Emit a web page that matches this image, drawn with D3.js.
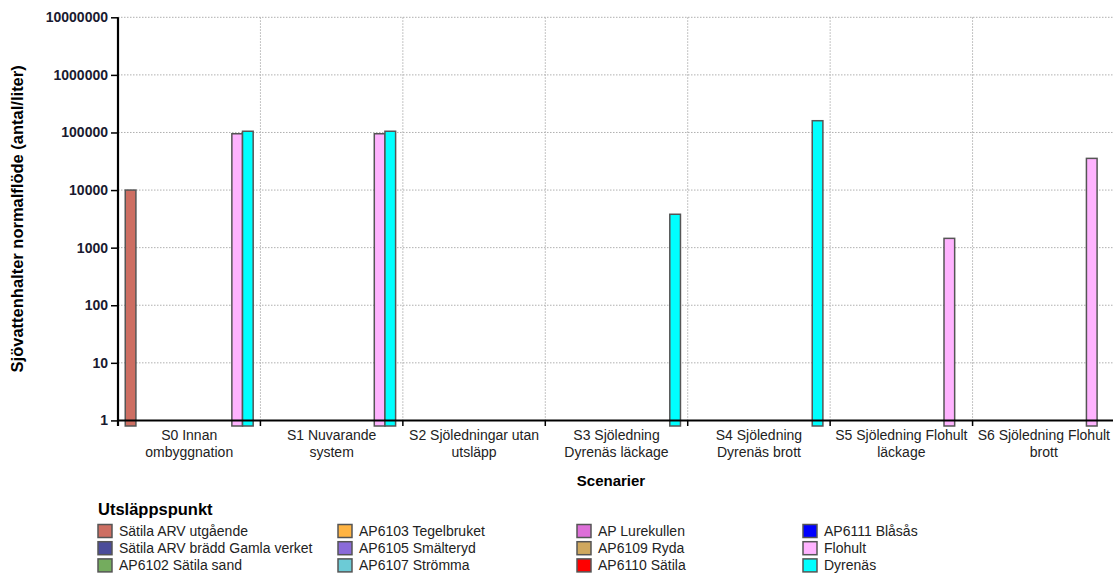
<!DOCTYPE html>
<html><head><meta charset="utf-8">
<script src="https://cdn.jsdelivr.net/npm/d3@7"></script>
<style>
html,body{margin:0;padding:0;background:#fff;}
svg{display:block;font-family:"Liberation Sans",Arial,sans-serif;}
</style></head>
<body><svg id="c" width="1113" height="574"></svg>
<script>
const categories = ["S0 Innan ombyggnation","S1 Nuvarande system","S2 Sjöledningar utan utsläpp","S3 Sjöledning Dyrenäs läckage","S4 Sjöledning Dyrenäs brott","S5 Sjöledning Flohult läckage","S6 Sjöledning Flohult brott"];
const seriesNames = ["Sätila ARV utgående","Sätila ARV brädd Gamla verket","AP6102 Sätila sand","AP6103 Tegelbruket","AP6105 Smälteryd","AP6107 Strömma","AP Lurekullen","AP6109 Ryda","AP6110 Sätila","AP6111 Blåsås","Flohult","Dyrenäs"];
const seriesColors = ["#cd6e62","#4b4c9a","#74ac5e","#ffb443","#8a6bd9","#6ccbd6","#dd6fd8","#cfa85e","#ff0000","#0000ff","#ffb3ff","#00ffff"];
// values per series, per category (null = no bar)
const values = {
  "Sätila ARV utgående":           [10000,null,null,null,null,null,null],
  "Sätila ARV brädd Gamla verket": [null,null,null,null,null,null,null],
  "AP6102 Sätila sand":            [null,null,null,null,null,null,null],
  "AP6103 Tegelbruket":            [null,null,null,null,null,null,null],
  "AP6105 Smälteryd":              [null,null,null,null,null,null,null],
  "AP6107 Strömma":                [null,null,null,null,null,null,null],
  "AP Lurekullen":                 [null,null,null,null,null,null,null],
  "AP6109 Ryda":                   [null,null,null,null,null,null,null],
  "AP6110 Sätila":                 [null,null,null,null,null,null,null],
  "AP6111 Blåsås":                 [null,null,null,null,null,null,null],
  "Flohult":                       [95000,95000,null,null,null,1450,35500],
  "Dyrenäs":                       [105000,105000,null,3800,160000,null,null]
};
const yTicks = [1,10,100,1000,10000,100000,1000000,10000000];
const yFloor = 0.8;
const yTitle = "Sjövattenhalter normalflöde (antal/liter)";
const xTitle = "Scenarier";
const legendTitle = "Utsläppspunkt";

const svg = d3.select("#c");
const L = 118, R = 1115, T = 17.3, B = 426;

const x0 = d3.scaleBand().domain(categories).range([L, R]).paddingInner(0).paddingOuter(0);
const x1 = d3.scaleBand().domain(seriesNames).range([0, x0.bandwidth()]).paddingInner(0).paddingOuter(0.68);
const y = d3.scaleLog().domain([yFloor, yTicks[yTicks.length-1]]).range([B, T]);

// gridlines
const grid = svg.append("g");
grid.selectAll("line.h").data(yTicks.slice(1)).join("line")
  .attr("x1", L).attr("x2", R).attr("y1", d=>y(d)).attr("y2", d=>y(d))
  .attr("stroke","#b0b0b0").attr("stroke-width",1).attr("stroke-dasharray","1.5,1.5");
const bounds = categories.map(c => x0(c) + x0.bandwidth());
grid.selectAll("line.v").data(bounds).join("line")
  .attr("x1", d=>d).attr("x2", d=>d).attr("y1", T).attr("y2", y(1))
  .attr("stroke","#b0b0b0").attr("stroke-width",1).attr("stroke-dasharray","1.5,1.5");

// bars
const barData = [];
seriesNames.forEach((s,i)=>{
  values[s].forEach((v,j)=>{ if(v!=null) barData.push({s, c:categories[j], v, color:seriesColors[i]}); });
});
svg.append("g").selectAll("rect").data(barData).join("rect")
  .attr("x", d => x0(d.c) + x1(d.s))
  .attr("width", x1.bandwidth())
  .attr("y", d => y(d.v))
  .attr("height", d => y(yFloor) - y(d.v))
  .attr("fill", d => d.color)
  .attr("stroke", "#555").attr("stroke-width", 1.5);

// x axis line at value 1
svg.append("line").attr("x1", L).attr("x2", R).attr("y1", y(1)).attr("y2", y(1))
  .attr("stroke","#000").attr("stroke-width",2);
// x ticks at group boundaries
svg.append("g").selectAll("line").data(bounds).join("line")
  .attr("x1", d=>d).attr("x2", d=>d).attr("y1", y(1)).attr("y2", B)
  .attr("stroke","#000").attr("stroke-width",1.5);

// y axis
const yAxis = d3.axisLeft(y).tickValues(yTicks).tickFormat(d3.format("d")).tickSize(7).tickPadding(3);
const ya = svg.append("g").attr("transform", `translate(${L},0)`).call(yAxis);
ya.select(".domain").remove();
ya.selectAll(".tick line").attr("stroke","#000").attr("stroke-width",1.5);
ya.selectAll(".tick text").attr("font-size", 14).attr("font-weight","bold")
  .attr("font-family","'Liberation Sans',Arial,sans-serif").attr("fill","#1a1a30");
svg.append("line").attr("x1", L).attr("x2", L).attr("y1", T).attr("y2", B)
  .attr("stroke","#000").attr("stroke-width",2.2);

// category labels with wrapping
const catG = svg.append("g");
categories.forEach(c => {
  const t = catG.append("text").attr("x", x0(c) + x0.bandwidth()/2).attr("y", 439.5)
    .attr("text-anchor","middle").attr("font-size",14).attr("fill","#222");
  const words = c.split(" ");
  let line = [], tspan = t.append("tspan").attr("x", x0(c) + x0.bandwidth()/2).attr("dy",0);
  words.forEach(w => {
    line.push(w);
    tspan.text(line.join(" "));
    if (tspan.node().getComputedTextLength() > 136 && line.length > 1) {
      line.pop(); tspan.text(line.join(" "));
      line = [w];
      tspan = t.append("tspan").attr("x", x0(c) + x0.bandwidth()/2).attr("dy", 17).text(w);
    }
  });
});

// axis titles
svg.append("text").attr("x", 611).attr("y", 485.5).attr("text-anchor","middle")
  .attr("font-size",15).attr("font-weight","bold").attr("fill","#000").text(xTitle);
svg.append("text").attr("transform", `translate(23,${(T+y(1))/2}) rotate(-90)`)
  .attr("text-anchor","middle").attr("font-size",16.5).attr("font-weight","bold").attr("fill","#000").text(yTitle);

// legend
const lg = svg.append("g");
lg.append("text").attr("x", 98).attr("y", 514.5).attr("font-size",16.5).attr("font-weight","bold").attr("fill","#000").text(legendTitle);
const colX = [98, 338, 577, 803];
seriesNames.forEach((s,i) => {
  const col = Math.floor(i/3), row = i%3;
  const gx = colX[col], gy = 524.5 + row*17.2;
  lg.append("rect").attr("x", gx).attr("y", gy).attr("width", 14).attr("height", 13)
    .attr("fill", seriesColors[i]).attr("stroke","#555").attr("stroke-width",1.5);
  lg.append("text").attr("x", gx + 21).attr("y", gy + 11.5).attr("font-size",14).attr("fill","#222").text(s);
});
</script></body></html>
